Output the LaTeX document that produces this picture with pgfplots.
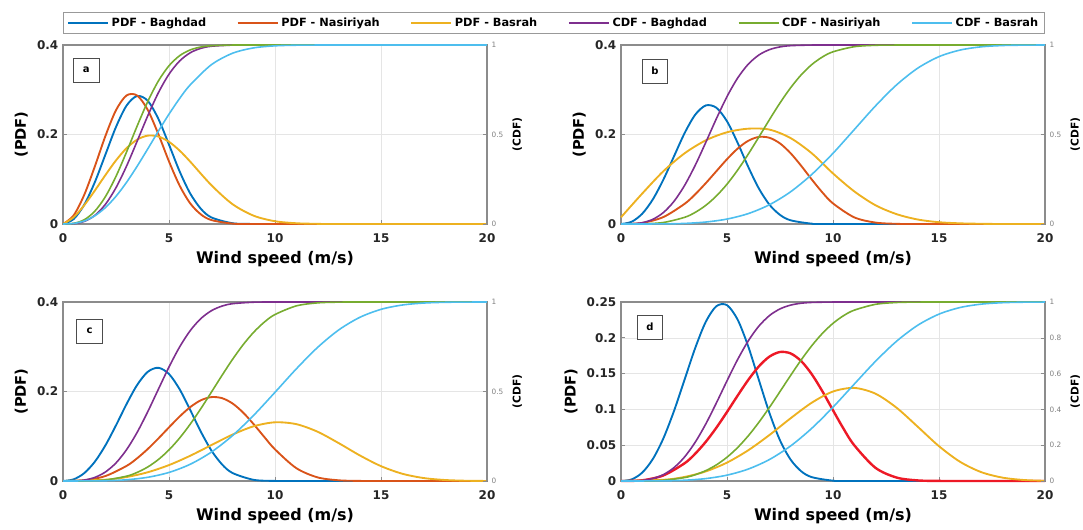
\documentclass[border=0pt]{standalone}
\usepackage{fontspec}
\setmainfont{DejaVu Sans}
\usepackage{pgfplots}
\pgfplotsset{compat=1.18}

% MATLAB default line colours
\definecolor{mBlue}{rgb}{0,0.447,0.741}
\definecolor{mRed}{rgb}{0.85,0.325,0.098}
\definecolor{mYellow}{rgb}{0.929,0.694,0.125}
\definecolor{mPurple}{rgb}{0.494,0.184,0.556}
\definecolor{mGreen}{rgb}{0.466,0.674,0.188}
\definecolor{mCyan}{rgb}{0.301,0.745,0.933}
\definecolor{brightRed}{rgb}{0.93,0.1,0.15}

\tikzset{lbl/.style={draw=black!70, line width=0.6pt, fill=white,
    font=\fontsize{7.5}{8}\selectfont\bfseries, minimum width=19pt, minimum height=18pt}}

\pgfplotsset{
  pdfax/.style={
    scale only axis, width=318pt, height=134.25pt, anchor=south west,
    xmin=0, xmax=20, ymin=0, xtick={0,5,10,15,20},
    axis line style={black!45, line width=0.8pt},
    major tick style={black!45, line width=0.5pt}, major tick length=3pt,
    tick align=inside, xtick pos=bottom, ytick pos=left,
    grid=major, grid style={black!10, line width=0.4pt},
    scaled y ticks=false,
    /pgf/number format/assume math mode=true,
    yticklabel style={/pgf/number format/fixed, /pgf/number format/precision=2},
    tick label style={font=\fontsize{9}{10}\selectfont\bfseries, text=black!85},
    xticklabel style={yshift=-4pt},
    xlabel={Wind speed (m/s)}, ylabel={(PDF)},
    xlabel style={font=\fontsize{12}{13}\selectfont\bfseries, yshift=1pt},
    ylabel style={font=\fontsize{11}{12}\selectfont\bfseries},
    clip=false,
    every axis plot/.append style={line width=1.4pt, smooth, no markers},
  },
  cdfax/.style={
    scale only axis, width=318pt, height=134.25pt, anchor=south west,
    xmin=0, xmax=20, ymin=0, ymax=1,
    axis x line=none, axis y line*=right,
    axis line style={black!45, line width=0.8pt},
    major tick style={black!45}, major tick length=3pt, tick align=inside,
    /pgf/number format/assume math mode=true,
    yticklabel style={font=\fontsize{5.5}{6}\selectfont, text=black!50},
    ylabel={(CDF)}, ylabel style={font=\fontsize{8}{9}\selectfont\bfseries},
    clip=false,
    every axis plot/.append style={line width=1.2pt, smooth, no markers},
  },
}

\begin{document}
\begin{tikzpicture}
\path[use as bounding box] (0,0) rectangle (812.25pt,-396.75pt);

% ---------------- panel a ----------------
\begin{axis}[pdfax, at={(47.25pt,-168pt)}, ymax=0.4, ytick={0,0.2,0.4},
  legend columns=6,
  legend style={at={(1.158,1.123)}, anchor=center, draw=black!40, line width=0.6pt,
    font=\fontsize{8.5}{9}\selectfont\bfseries,
    /tikz/every even column/.append style={column sep=21pt}},
  legend image code/.code={\draw[#1] (0pt,0pt) -- (30pt,0pt);}]
\addlegendimage{mBlue, line width=1.4pt}
\addlegendimage{mRed, line width=1.4pt}
\addlegendimage{mYellow, line width=1.4pt}
\addlegendimage{mPurple, line width=1.4pt}
\addlegendimage{mGreen, line width=1.4pt}
\addlegendimage{mCyan, line width=1.4pt}
\legend{PDF - Baghdad, PDF - Nasiriyah, PDF - Basrah, CDF - Baghdad, CDF - Nasiriyah, CDF - Basrah}
\addplot[mBlue] coordinates {(0,0)(0.5,0.0109)(1,0.0429)(1.5,0.0933)(2,0.1551)(2.5,0.2169)(3,0.2648)(3.5,0.2862)(4,0.2752)(4.5,0.2349)(5,0.1774)(5.5,0.1177)(6,0.0682)(6.5,0.0342)(7,0.0147)(8,0.0017)(9,0.0001)(10,0)(15,0)(20,0)};
\addplot[mRed] coordinates {(0,0)(0.5,0.0191)(1,0.065)(1.5,0.1284)(2,0.1966)(2.5,0.2544)(3,0.2874)(3.5,0.2871)(4,0.2548)(4.5,0.2006)(5,0.1398)(5.5,0.0859)(6,0.0461)(6.5,0.0216)(7,0.0088)(8,0.0009)(9,0)(15,0)(20,0)};
\addplot[mYellow] coordinates {(0,0)(0.5,0.015)(1,0.0418)(1.5,0.0746)(2,0.1093)(2.5,0.1422)(3,0.1696)(3.5,0.1886)(4,0.1975)(4.5,0.1955)(5,0.1837)(5.5,0.1641)(6,0.1394)(7,0.0867)(8,0.0442)(9,0.0184)(10,0.0062)(11,0.0017)(12,0.0004)(13,0)(20,0)};
\node[lbl] at (rel axis cs:0.055,0.86) {a};
\end{axis}
\begin{axis}[cdfax, at={(47.25pt,-168pt)}, ytick={0,0.5,1}]
\addplot[mPurple] coordinates {(0,0)(0.5,0.0018)(1,0.0144)(1.5,0.0478)(2,0.1096)(2.5,0.2028)(3,0.3241)(3.5,0.4632)(4,0.6049)(4.5,0.7335)(5,0.837)(5.5,0.9106)(6,0.9565)(6.5,0.9814)(7,0.9931)(8,0.9994)(9,1)(20,1)};
\addplot[mGreen] coordinates {(0,0)(0.5,0.0034)(1,0.0235)(1.5,0.0714)(2,0.1527)(2.5,0.2662)(3,0.403)(3.5,0.5481)(4,0.6847)(4.5,0.7992)(5,0.8842)(5.5,0.9401)(6,0.9725)(6.5,0.9888)(7,0.996)(8,0.9997)(9,1)(20,1)};
\addplot[mCyan] coordinates {(0,0)(0.5,0.003)(1,0.0169)(1.5,0.0458)(2,0.0918)(2.5,0.1548)(3,0.2331)(3.5,0.3231)(4,0.42)(4.5,0.5188)(5,0.6139)(5.5,0.7011)(6,0.7772)(7,0.89)(8,0.9541)(9,0.984)(10,0.9954)(11,0.9989)(12,0.9998)(13,1)(20,1)};
\end{axis}

% ---------------- panel b ----------------
\begin{axis}[pdfax, at={(465.75pt,-168pt)}, ymax=0.4, ytick={0,0.2,0.4}]
\addplot[mBlue] coordinates {(0,0)(0.5,0.005)(1,0.0229)(1.5,0.0549)(2,0.0993)(2.5,0.1513)(3,0.2031)(3.5,0.2442)(4,0.265)(4.5,0.2598)(5,0.2295)(5.5,0.1816)(6,0.1279)(6.5,0.0796)(7,0.0433)(7.5,0.0204)(8,0.0083)(9,0.0008)(10,0)(20,0)};
\addplot[mRed] coordinates {(0,0)(1,0.0024)(2,0.0156)(3,0.0451)(3.5,0.0664)(4,0.0913)(4.5,0.1181)(5,0.1448)(5.5,0.1684)(6,0.1859)(6.5,0.1946)(7,0.1927)(7.5,0.1801)(8,0.1582)(8.5,0.13)(9,0.0994)(9.5,0.0705)(10,0.046)(11,0.0149)(12,0.0032)(13,0.0004)(14,0)(20,0)};
\addplot[mYellow] coordinates {(0,0.015)(1,0.068)(2,0.118)(3,0.158)(4,0.187)(5,0.205)(6,0.213)(7,0.211)(8,0.192)(9,0.158)(10,0.113)(11,0.073)(12,0.042)(13,0.022)(14,0.01)(15,0.004)(16,0.0015)(17,0.0005)(18,0)(20,0)};
\node[lbl] at (rel axis cs:0.08,0.855) {b};
\end{axis}
\begin{axis}[cdfax, at={(465.75pt,-168pt)}, ytick={0,0.5,1}]
\addplot[mPurple] coordinates {(0,0)(0.5,0.0008)(1,0.0072)(1.5,0.026)(2,0.0641)(2.5,0.1266)(3,0.2155)(3.5,0.3279)(4,0.4562)(4.5,0.5886)(5,0.7118)(5.5,0.8151)(6,0.8925)(6.5,0.9439)(7,0.974)(7.5,0.9895)(8,0.9963)(9,0.9997)(10,1)(20,1)};
\addplot[mGreen] coordinates {(0,0)(1,0.0007)(2,0.0085)(3,0.0373)(3.5,0.065)(4,0.1043)(4.5,0.1567)(5,0.2224)(5.5,0.3009)(6,0.3898)(6.5,0.4853)(7,0.5826)(7.5,0.6764)(8,0.7611)(8.5,0.8334)(9,0.8908)(9.5,0.9331)(10,0.962)(11,0.9905)(12,0.9984)(13,0.9998)(14,1)(20,1)};
\addplot[mCyan] coordinates {(0,0)(2,0.0006)(3,0.0033)(4,0.011)(5,0.0276)(6,0.058)(7,0.1075)(8,0.18)(9,0.277)(10,0.395)(11,0.527)(12,0.6592)(13,0.7775)(14,0.8709)(15,0.935)(16,0.9719)(17,0.99)(18,0.9971)(19,0.9993)(20,0.9999)};
\end{axis}

% ---------------- panel c ----------------
\begin{axis}[pdfax, at={(47.25pt,-360.75pt)}, ymax=0.4, ytick={0,0.2,0.4}]
\addplot[mBlue] coordinates {(0,0)(0.5,0.0037)(1,0.0175)(1.5,0.043)(2,0.0796)(2.5,0.1244)(3,0.1721)(3.5,0.2148)(4,0.2441)(4.5,0.253)(5,0.2391)(5.5,0.2051)(6,0.1588)(6.5,0.1104)(7,0.0682)(7.5,0.0372)(8,0.0178)(9,0.0026)(10,0.0002)(11,0)(20,0)};
\addplot[mRed] coordinates {(0,0)(1,0.0016)(2,0.0111)(3,0.0338)(3.5,0.0509)(4,0.0716)(4.5,0.0951)(5,0.1199)(5.5,0.1441)(6,0.1651)(6.5,0.1804)(7,0.1875)(7.5,0.1852)(8,0.1732)(8.5,0.1528)(9,0.1266)(9.5,0.0981)(10,0.0707)(11,0.0289)(12,0.0082)(13,0.0016)(14,0.0002)(15,0)(20,0)};
\addplot[mYellow] coordinates {(0,0)(2,0.0029)(3,0.0089)(4,0.0196)(5,0.0356)(6,0.0564)(7,0.0803)(8,0.1038)(9,0.1224)(10,0.1312)(11,0.1271)(12,0.1103)(13,0.0848)(14,0.0572)(15,0.0332)(16,0.0163)(17,0.0067)(18,0.0023)(19,0.0006)(20,0.0001)};
\node[lbl] at (rel axis cs:0.0625,0.838) {c};
\end{axis}
\begin{axis}[cdfax, at={(47.25pt,-360.75pt)}, ytick={0,0.5,1}]
\addplot[mPurple] coordinates {(0,0)(0.5,0.0006)(1,0.0054)(1.5,0.02)(2,0.0503)(2.5,0.101)(3,0.1752)(3.5,0.2723)(4,0.3877)(4.5,0.5129)(5,0.6369)(5.5,0.7486)(6,0.84)(6.5,0.9071)(7,0.9514)(7.5,0.9773)(8,0.9906)(9,0.9989)(10,0.9999)(11,1)(20,1)};
\addplot[mGreen] coordinates {(0,0)(1,0.0004)(2,0.0059)(3,0.027)(3.5,0.0481)(4,0.0785)(4.5,0.1201)(5,0.1739)(5.5,0.2399)(6,0.3174)(6.5,0.404)(7,0.4964)(7.5,0.59)(8,0.68)(8.5,0.7618)(9,0.8318)(9.5,0.888)(10,0.9301)(11,0.9781)(12,0.9951)(13,0.9993)(14,1)(20,1)};
\addplot[mCyan] coordinates {(0,0)(2,0.0015)(3,0.007)(4,0.0208)(5,0.0479)(6,0.0935)(7,0.1617)(8,0.2541)(9,0.3678)(10,0.4956)(11,0.6258)(12,0.7454)(13,0.8435)(14,0.9143)(15,0.959)(16,0.9831)(17,0.9941)(18,0.9983)(19,0.9996)(20,0.9999)};
\end{axis}

% ---------------- panel d ----------------
\begin{axis}[pdfax, at={(465.75pt,-360.75pt)}, ymax=0.25, ytick={0,0.05,0.1,0.15,0.2,0.25}]
\addplot[mBlue] coordinates {(0,0)(0.5,0.0022)(1,0.0117)(1.5,0.0306)(2,0.0596)(2.5,0.0978)(3,0.1417)(3.5,0.1857)(4,0.2224)(4.5,0.2442)(5,0.2456)(5.5,0.2255)(6,0.1881)(6.5,0.1414)(7,0.0952)(7.5,0.0568)(8,0.0299)(8.5,0.0136)(9,0.0054)(10,0.0005)(11,0)(20,0)};
\addplot[brightRed, line width=1.8pt] coordinates {(0,0)(1,0.001)(2,0.0078)(3,0.0248)(3.5,0.0381)(4,0.0548)(4.5,0.0745)(5,0.0964)(5.5,0.1192)(6,0.1411)(6.5,0.16)(7,0.1737)(7.5,0.1802)(8,0.1782)(8.5,0.1675)(9,0.1491)(9.5,0.1253)(10,0.0988)(10.5,0.0729)(11,0.05)(12,0.0185)(13,0.0048)(14,0.0008)(15,0.0001)(16,0)(20,0)};
\addplot[mYellow] coordinates {(0,0)(2,0.0017)(3,0.0057)(4,0.0134)(5,0.0257)(6,0.0429)(7,0.0642)(8,0.0876)(9,0.1094)(10,0.125)(11,0.13)(12,0.122)(13,0.1023)(14,0.0757)(15,0.0486)(16,0.0267)(17,0.0123)(18,0.0047)(19,0.0014)(20,0.0003)};
\node[lbl] at (rel axis cs:0.068,0.86) {d};
\end{axis}
\begin{axis}[cdfax, at={(465.75pt,-360.75pt)}, ytick={0,0.2,0.4,0.6,0.8,1}]
\addplot[mPurple] coordinates {(0,0)(1,0.0034)(1.5,0.0136)(2,0.0357)(2.5,0.0748)(3,0.1345)(3.5,0.2165)(4,0.3189)(4.5,0.4364)(5,0.5597)(5.5,0.6783)(6,0.7823)(6.5,0.8649)(7,0.9239)(7.5,0.9615)(8,0.9826)(8.5,0.9932)(9,0.9976)(10,0.9998)(11,1)(20,1)};
\addplot[mGreen] coordinates {(0,0)(1,0.0003)(2,0.004)(3,0.0192)(3.5,0.0349)(4,0.058)(4.5,0.0902)(5,0.1328)(5.5,0.1867)(6,0.2519)(6.5,0.3273)(7,0.411)(7.5,0.4998)(8,0.5899)(8.5,0.6766)(9,0.756)(9.5,0.8248)(10,0.8809)(10.5,0.9238)(11,0.9543)(12,0.9869)(13,0.9973)(14,0.9996)(15,1)(20,1)};
\addplot[mCyan] coordinates {(0,0)(2,0.0009)(3,0.0043)(4,0.0135)(5,0.0327)(6,0.0666)(7,0.1199)(8,0.1958)(9,0.2946)(10,0.4125)(11,0.541)(12,0.6681)(13,0.7811)(14,0.8704)(15,0.9323)(16,0.9694)(17,0.9882)(18,0.9962)(19,0.999)(20,0.9998)};
\end{axis}
\end{tikzpicture}
\end{document}
